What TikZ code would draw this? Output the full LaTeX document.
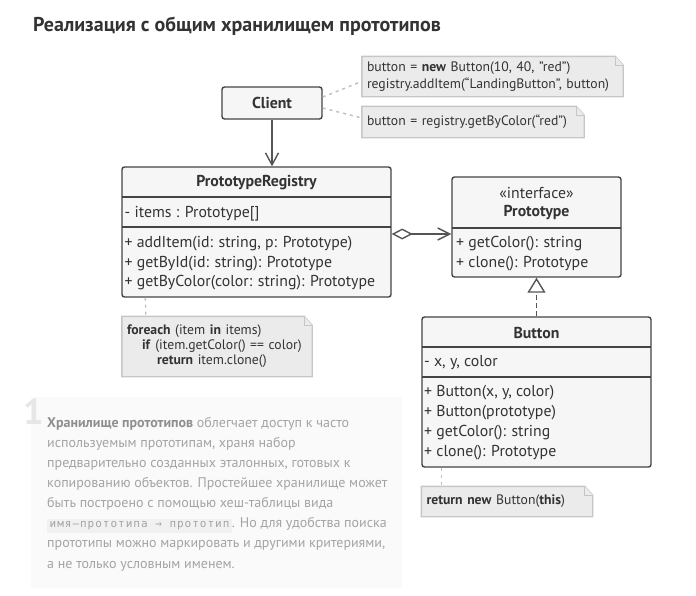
\documentclass[tikz,border=0pt]{standalone}
\usepackage{fontspec}
\setmainfont{PT Sans}
\newfontfamily\codefont[LetterSpace=9]{DejaVu Sans Mono}
\usetikzlibrary{arrows.meta,backgrounds,positioning}

\definecolor{linegray}{HTML}{444444}
\definecolor{arrowgray}{HTML}{555555}
\definecolor{boxfill}{HTML}{F6F6F6}
\definecolor{notefill}{HTML}{EBEBEB}
\definecolor{noteline}{HTML}{C6C6C6}
\definecolor{dotgray}{HTML}{BDBDBD}
\definecolor{textdark}{HTML}{333333}
\definecolor{paratext}{HTML}{A4A4A4}
\definecolor{parabold}{HTML}{8E8E8E}
\definecolor{parabg}{HTML}{FAFAFA}
\definecolor{chipbg}{HTML}{F1F1F1}
\definecolor{numgray}{HTML}{E6E6E6}

\tikzset{
  classbox/.style={draw=linegray, line width=1.4pt, fill=boxfill, rounded corners=2.5pt, inner sep=0pt},
  sep/.style={draw=linegray, line width=1.4pt},
  member/.style={anchor=west, inner sep=0pt, text=textdark, font=\fontsize{15.8}{18}\selectfont},
  head/.style={inner sep=0pt, text=textdark, font=\bfseries\fontsize{15.8}{18}\selectfont},
  note/.style={align=left, inner xsep=5pt, inner ysep=0pt, text=textdark},
  notebg/.style={draw=noteline, fill=notefill, line width=1.4pt},
  dots/.style={draw=dotgray, line width=1.4pt, dash pattern=on 3pt off 4pt},
}

\newcommand\notefold[1]{%
  \begin{scope}[on background layer]
    \filldraw[notebg] (#1.south west) -- (#1.north west) -- ([xshift=-8pt]#1.north east)
      -- ([yshift=-9pt]#1.north east) -- (#1.south east) -- cycle;
    \draw[notebg] ([xshift=-8pt]#1.north east) |- ([yshift=-9pt]#1.north east);
  \end{scope}}

\begin{document}
\begin{tikzpicture}[x=1pt, y=-1pt]
  \useasboundingbox (0,0) rectangle (696,595);

  \node[anchor=base west, inner sep=0pt, text=textdark, font=\bfseries\fontsize{20}{24}\selectfont] (title) at (33,31)
    {Реализация с общим хранилищем прототипов};

  % classes
  \node[classbox, minimum width=100pt, minimum height=32pt] (client) at (272,103) {};
  \node[head] (clientname) at (client.center) {Client};

  \node[classbox, minimum width=269pt, minimum height=130pt] (reg) at (256.5,232) {};
  \draw[sep] (122,197) -- (391,197);
  \draw[sep] (122,227) -- (391,227);
  \node[head] (regname) at (256.5,183) {PrototypeRegistry};
  \node[member] (regitems) at (124.5,214) {- items : Prototype[]};
  \node[member] (regadd) at (124.5,244) {+ addItem(id: string, p: Prototype)};
  \node[member] (regid) at (124.5,263.5) {+ getById(id: string): Prototype};
  \node[member] (regcolor) at (124.5,283) {+ getByColor(color: string): Prototype};

  \node[classbox, minimum width=169pt, minimum height=100pt] (proto) at (536.5,227) {};
  \draw[sep] (452,228) -- (621,228);
  \node[inner sep=0pt, text=textdark, font=\fontsize{15.8}{18}\selectfont] (protoster) at (536.5,193) {«interface»};
  \node[head] (protoname) at (536.5,213) {Prototype};
  \node[member] (protocolor) at (456,244) {+ getColor(): string};
  \node[member] (protoclone) at (456,263.5) {+ clone(): Prototype};

  \node[classbox, minimum width=229pt, minimum height=150pt] (button) at (536.5,392) {};
  \draw[sep] (422,347) -- (651,347);
  \draw[sep] (422,377) -- (651,377);
  \node[head] (buttonname) at (536.5,333) {Button};
  \node[member] (buttonfields) at (424,363) {- x, y, color};
  \node[member] (buttonnew) at (424,393) {+ Button(x, y, color)};
  \node[member] (buttoncopy) at (424,413) {+ Button(prototype)};
  \node[member] (buttoncolor) at (424,433) {+ getColor(): string};
  \node[member] (buttonclone) at (424,453) {+ clone(): Prototype};

  % notes
  \begin{scope}[every node/.style={note, font=\fontsize{13.7}{17.5}\selectfont}]
  \node[minimum width=261pt, minimum height=40pt, text width=251pt] (addnote) at (492.5,76.5)
    {button = \textbf{new} Button(10, 40, "red")\\registry.addItem(“LandingButton”, button)};
  \node[minimum width=222pt, minimum height=31pt, text width=212pt] (getnote) at (473,122)
    {button = registry.getByColor(“red”)};
  \node[minimum width=171pt, minimum height=30pt, text width=161pt] (clonenote) at (507,501.5)
    {\textbf{return new} Button(\textbf{this})};
  \end{scope}
  \node[note, font=\fontsize{13.7}{15}\selectfont, minimum width=190pt, minimum height=60pt, text width=180pt] (colornote) at (217,346.5)
    {\textbf{foreach} (item \textbf{in} items)\\\hspace*{15pt}\textbf{if} (item.getColor() == color)\\\hspace*{30pt}\textbf{return} item.clone()};
  \notefold{addnote}
  \notefold{getnote}
  \notefold{clonenote}
  \notefold{colornote}

  \path[dots] ([yshift=6pt]client.east) edge ([yshift=-5pt]addnote.west);
  \path[dots] ([yshift=-5pt]client.east) edge ([yshift=4pt]getnote.west);
  \path[dots] ([xshift=24pt]reg.south west) edge ([xshift=24pt]colornote.north west);
  \path[dots] ([xshift=20pt]button.south west) edge ([xshift=20pt]clonenote.north west);

  % relations
  \begin{scope}[draw=arrowgray, line width=1.4pt]
  \path[-{Straight Barb[length=12pt, width=13pt]}] (client.south) edge (client.south |- reg.north);
  \path[{Diamond[open, fill=white, length=21pt, width=11pt]}-{Straight Barb[length=12pt, width=12pt]}]
    ([yshift=-2pt]reg.east) edge ([yshift=-2pt]reg.east -| proto.west);
  \path[dash pattern=on 5pt off 3pt, -{Triangle[open, fill=white, length=15pt, width=18pt]}]
    (button.north) edge (proto.south);
  \end{scope}

  % explanation
  \begin{scope}[on background layer]
  \fill[parabg] (31,397) rectangle (402,588);
  \end{scope}
  \node[anchor=north west, inner sep=0pt, text=numgray, font=\bfseries\fontsize{36}{36}\selectfont] (num) at (23,399) {1};
  \node[anchor=north west, inner sep=0pt, align=left, text=paratext, font=\fontsize{14}{20.1}\selectfont] (para) at (47,417)
    {{\color{parabold}\bfseries Хранилище прототипов} облегчает доступ к часто\\
     используемым прототипам, храня набор\\
     предварительно созданных эталонных, готовых к\\
     копированию объектов. Простейшее хранилище может\\
     быть построено с помощью хеш-таблицы вида\\
     {\fboxsep=2.5pt\colorbox{chipbg}{\codefont\fontsize{11}{12}\selectfont имя–прототипа → прототип}}. Но для удобства поиска\\
     прототипы можно маркировать и другими критериями,\\
     а не только условным именем.};
\end{tikzpicture}
\end{document}
